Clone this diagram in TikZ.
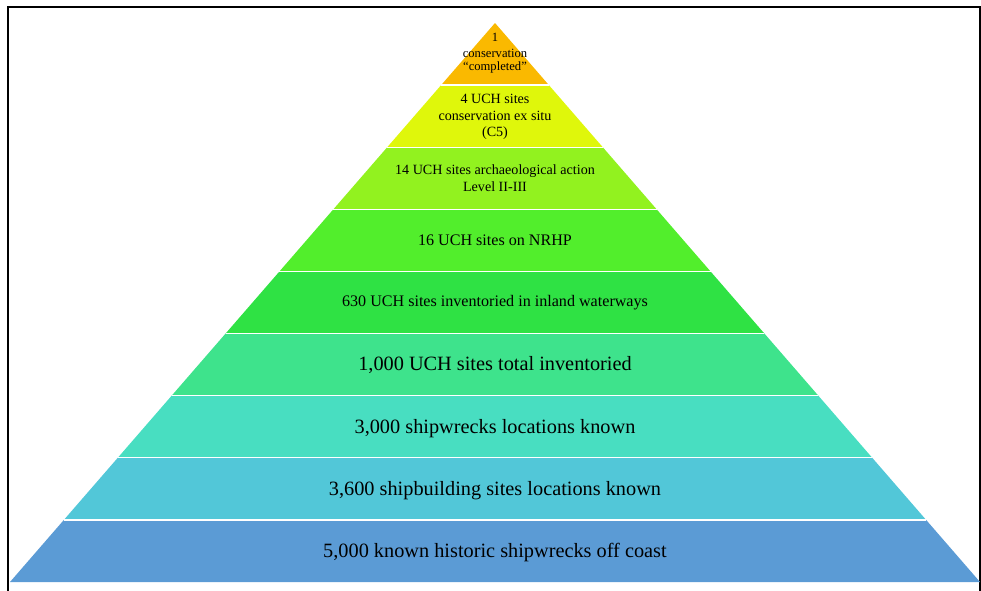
\documentclass[tikz,border=0pt]{standalone}
\usepackage{fontspec}
\setmainfont{Liberation Serif}
\usetikzlibrary{calc}
\definecolor{b1}{HTML}{FAB900}
\definecolor{b2}{HTML}{DFF70B}
\definecolor{b3}{HTML}{92F21F}
\definecolor{b4}{HTML}{52EE2C}
\definecolor{b5}{HTML}{2FE244}
\definecolor{b6}{HTML}{3EE38C}
\definecolor{b7}{HTML}{48DEC1}
\definecolor{b8}{HTML}{52C7D8}
\definecolor{b9}{HTML}{5B9BD5}
\tikzset{
  lbl/.style={align=center, inner sep=0pt, text=black},
  small/.style={lbl, font=\fontsize{12.6}{13}\selectfont},
  mida/.style={lbl, font=\fontsize{14.1}{16.5}\selectfont},
  midb/.style={lbl, font=\fontsize{16.1}{19}\selectfont},
  big/.style={lbl, font=\fontsize{20.3}{24}\selectfont},
  sep/.style={draw=white, line width=1.3pt}
}
\begin{document}
\begin{tikzpicture}[x=1pt,y=-1pt]
\useasboundingbox (0,0) rectangle (981,590);
\draw[line width=2pt] (7.5,592) -- (7.5,6.5) -- (980,6.5) -- (980,592);
\coordinate (A) at (495,23);
\coordinate (BL) at (10,582);
\coordinate (BR) at (980,582);
\foreach \i/\c in {1/b1,2/b2,3/b3,4/b4,5/b5,6/b6,7/b7,8/b8,9/b9}{
  \fill[\c] ($(A)!{(\i-1)/9}!(BL)$) -- ($(A)!{\i/9}!(BL)$) -- ($(A)!{\i/9}!(BR)$) -- ($(A)!{(\i-1)/9}!(BR)$) -- cycle;
}
\foreach \i in {1,...,8}{
  \draw[sep] ($(A)!{\i/9}!(BL)$) -- ($(A)!{\i/9}!(BR)$);
}
\node[small] (t1a) at (495,37) {1};
\node[small] (t1b) at (495,61.5) {conservation\\“completed”};
\node[mida] (t2) at (495,117) {4 UCH sites\\conservation ex situ\\(C5)};
\node[mida] (t3) at (495,178) {14 UCH sites archaeological action\\Level II-III};
\node[midb] (t4) at (495,240.5) {16 UCH sites on NRHP};
\node[midb] (t5) at (495,302.5) {630 UCH sites inventoried in inland waterways};
\node[big] (t6) at (495,365.5) {1,000 UCH sites total inventoried};
\node[big] (t7) at (495,428.5) {3,000 shipwrecks locations known};
\node[big] (t8) at (495,490.5) {3,600 shipbuilding sites locations known};
\node[big] (t9) at (495,552.5) {5,000 known historic shipwrecks off coast};
\end{tikzpicture}
\end{document}
